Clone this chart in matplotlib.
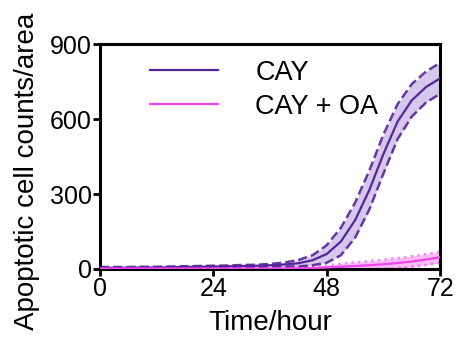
import numpy as np
import matplotlib
matplotlib.use("Agg")
import matplotlib.pyplot as plt

plt.rcParams['font.family'] = ['Liberation Sans', 'DejaVu Sans']

# time points (hours)
hours = [0, 3, 6, 9, 12, 15, 18, 21, 24, 27, 30, 33, 36,
         39, 42, 45, 48, 51, 54, 57, 60, 63, 66, 69, 72]

# CAY mean and SEM
cay_mean = [5, 5, 5, 6, 6, 7, 8, 9, 10, 11, 12, 13, 15,
            18, 23, 35, 60, 110, 195, 315, 460, 590, 675, 728, 763]
cay_sem = [3, 3, 3, 3, 3, 3, 3, 3, 3, 3, 4, 4, 5,
           8, 13, 20, 35, 55, 70, 78, 78, 70, 65, 62, 62]

# CAY + OA mean and SEM
oa_mean = [2, 2, 2, 2, 2, 2, 2, 2, 2, 2, 2, 2, 2,
           2, 3, 4, 6, 9, 12, 15, 19, 24, 30, 38, 47]
oa_sem = [2, 2, 2, 2, 2, 2, 2, 2, 2, 2, 2, 2, 2,
          2, 3, 5, 8, 12, 15, 17, 19, 20, 21, 22, 22]

purple = '#55259a'
pink = '#f044ee'

fig = plt.figure(figsize=(4.58, 3.39), dpi=100)
ax = fig.add_axes([0.218, 0.2065, 0.743, 0.6635])

t = np.array(hours)
for mean, sem, col, fill, ls in [(oa_mean, oa_sem, pink, '#f8bdf2', ':'),
                                 (cay_mean, cay_sem, purple, '#d6c8ec', '--')]:
    m = np.array(mean)
    s = np.array(sem)
    ax.fill_between(t, m - s, m + s, color=fill, lw=0, zorder=1)
    ax.plot(t, m + s, color=col, ls=ls, lw=1.8, zorder=2, alpha=0.9 if ls == '--' else 0.6)
    ax.plot(t, m - s, color=col, ls=ls, lw=1.8, zorder=2, alpha=0.9 if ls == '--' else 0.6)

ax.plot(t, cay_mean, color=purple, lw=1.6, zorder=3, label='CAY')
ax.plot(t, oa_mean, color=pink, lw=1.6, zorder=3, label='CAY + OA')

ax.set_xlim(0, 72)
ax.set_ylim(0, 900)
ax.set_xticks([0, 24, 48, 72])
ax.set_yticks([0, 300, 600, 900])
ax.tick_params(labelsize=18, width=2, length=5, pad=1)
for sp in ax.spines.values():
    sp.set_linewidth(2.2)

ax.set_xlabel('Time/hour', fontsize=20, labelpad=6)
ax.set_ylabel('Apoptotic cell counts/area', fontsize=20)
ax.yaxis.set_label_coords(-0.175, 0.436)

ax.legend(loc='upper left', bbox_to_anchor=(0.147, 0.93), frameon=False,
          fontsize=19.5, handlelength=2.5, handletextpad=1.4, labelspacing=0.3,
          borderpad=0, borderaxespad=0)

fig.savefig('out.png', dpi=100)
